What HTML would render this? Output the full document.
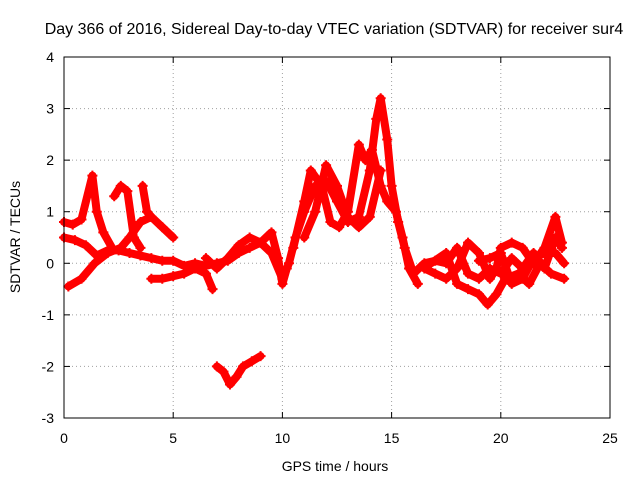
<!DOCTYPE html>
<html><head><meta charset="utf-8"><style>
body{margin:0;background:#fff}
svg{display:block;font-family:"Liberation Sans",sans-serif}
</style></head><body>
<svg id="chart" width="640" height="480">
<rect width="640" height="480" fill="#fff"/>
<text x="334" y="34" text-anchor="middle" font-size="16">Day 366 of 2016, Sidereal Day-to-day VTEC variation (SDTVAR) for receiver sur4</text>
<text x="335" y="471" text-anchor="middle" font-size="14">GPS time / hours</text>
<text transform="translate(20,237) rotate(-90)" text-anchor="middle" font-size="14">SDTVAR / TECUs</text>
<g id="grid"></g><g id="marks"></g><g id="axes"></g>
</svg>
<script>
const xTicks=[0,5,10,15,20,25];
const yTicks=[-3,-2,-1,0,1,2,3,4];
const track1=[[0,0.5],[0.5,0.45],[1,0.35],[1.5,0.15],[2,0.25],[2.5,0.25],[3,0.2],[3.5,0.15],[4,0.1],[4.5,0.05],[5,0.05],[5.5,-0.05],[6,0],[6.5,-0.05],[7,0],[7.5,0.05],[8,0.2],[8.5,0.3],[9,0.4],[9.5,0.2],[10,-0.3],[10.3,0],[10.6,0.5],[11,1.0],[11.5,1.5],[12,1.6],[12.5,1.2],[13,0.8],[13.5,0.9],[14,1.8],[14.3,2.8],[14.5,3.2],[14.8,2.4],[15,1.5],[15.3,0.8],[15.6,0.3],[16,-0.2],[16.5,0],[17,0.05],[17.5,0],[18,0.3],[18.5,-0.2],[19,-0.3],[19.5,-0.1],[20,-0.2],[20.5,0.1],[21,-0.1],[21.5,0.2],[22,-0.1],[22.5,0.5],[22.8,0.3]];
const track2=[[0.2,-0.45],[0.8,-0.3],[1.4,0],[2,0.2],[2.6,0.3],[3,0.5],[3.5,0.8],[4,0.9],[4.5,0.7],[5,0.5]];
const track3=[[0,0.8],[0.4,0.75],[0.8,0.85],[1.3,1.7],[1.5,1.0],[1.8,0.6],[2.2,0.3]];
const track4=[[2.3,1.3],[2.6,1.5],[2.9,1.4],[3.2,0.5],[3.5,0.3]];
const track5=[[3.6,1.5],[3.8,1.0],[4.0,0.9]];
const track6=[[4,-0.3],[4.5,-0.3],[5,-0.25],[5.5,-0.2],[6,-0.1],[6.5,-0.2],[6.8,-0.5]];
const track7=[[6.5,0.1],[7,-0.1],[7.5,0.1],[8,0.35],[8.5,0.5],[9,0.4],[9.5,0.6],[9.8,0.1],[10,-0.4],[10.2,-0.1]];
const track8=[[7,-2.0],[7.3,-2.1],[7.6,-2.35],[7.9,-2.2],[8.2,-2.0],[8.6,-1.9],[9,-1.8]];
const track9=[[10.5,0.3],[11,1.2],[11.3,1.8],[11.8,1.5],[12.2,0.8],[12.6,0.7],[13,1.0],[13.5,2.3],[13.8,2.0],[14.1,2.2],[14.5,1.5],[14.8,1.2],[15.2,1.0],[15.5,0.5],[15.8,-0.1],[16.2,-0.4]];
const track10=[[11,0.5],[11.5,1.0],[12,1.9],[12.5,1.5],[13,0.9],[13.5,0.7],[14,0.9],[14.5,1.8]];
const track11=[[16.5,-0.1],[17,-0.2],[17.5,-0.3],[18,-0.1],[18.5,0.4],[19,0.2],[19.5,-0.3],[19.8,-0.1],[20,0.3],[20.5,0.4],[21,0.3],[21.5,0.0],[22,0.3],[22.5,0.9],[22.8,0.4]];
const track12=[[16.8,0],[17.5,0.2],[18,-0.4],[18.5,-0.5],[19,-0.6],[19.4,-0.8],[19.8,-0.6],[20.2,-0.3],[20.8,-0.2],[21.3,-0.4],[21.8,0.0],[22.3,-0.2],[22.9,-0.3]];
const track13=[[19,0.05],[19.5,0.1],[20,0.2],[20.5,-0.4],[21,-0.3],[21.5,0.1],[22,0.2],[22.5,0.2],[22.9,0.0]];
const tracks=[track1,track2,track3,track4,track5,track6,track7,track8,track9,track10,track11,track12,track13];

const L=64,R=610,T=57,B=418,xMin=0,xMax=25,yMin=-3,yMax=4;
const sx=v=>L+(v-xMin)/(xMax-xMin)*(R-L);
const sy=v=>B-(v-yMin)/(yMax-yMin)*(B-T);
const NS="http://www.w3.org/2000/svg";
function mk(tag,attrs,parent){const e=document.createElementNS(NS,tag);for(const k in attrs)e.setAttribute(k,attrs[k]);parent.appendChild(e);return e;}
const grid=document.getElementById('grid'),axes=document.getElementById('axes'),marks=document.getElementById('marks');
xTicks.forEach(t=>{
  if(t>xMin&&t<xMax){const g=mk('line',{x1:sx(t),x2:sx(t),y1:T,y2:B,stroke:'#a0a0a0','stroke-dasharray':'1,3'},grid);
  
  }
  mk('line',{x1:sx(t),x2:sx(t),y1:B,y2:B-6,stroke:'#000'},axes);
  mk('line',{x1:sx(t),x2:sx(t),y1:T,y2:T+6,stroke:'#000'},axes);
  const tx=mk('text',{x:sx(t),y:B+25,'text-anchor':'middle','font-size':14},axes);tx.textContent=t;
  
  
});
yTicks.forEach(t=>{
  if(t>yMin&&t<yMax){const g=mk('line',{x1:L,x2:R,y1:sy(t),y2:sy(t),stroke:'#a0a0a0','stroke-dasharray':'1,3'},grid);
  
  }
  mk('line',{x1:L,x2:L+6,y1:sy(t),y2:sy(t),stroke:'#000'},axes);
  mk('line',{x1:R,x2:R-6,y1:sy(t),y2:sy(t),stroke:'#000'},axes);
  const tx=mk('text',{x:L-10,y:sy(t)+5,'text-anchor':'end','font-size':14},axes);tx.textContent=t;
  
  
});
const frame=mk('rect',{x:L,y:T,width:R-L,height:B-T,fill:'none',stroke:'#000'},axes);


tracks.forEach(tr=>{
  const pl=mk('polyline',{points:tr.map(p=>sx(p[0])+','+sy(p[1])).join(' '),fill:'none',stroke:'#f00','stroke-width':8,'stroke-linejoin':'round','stroke-linecap':'round'},marks);
  
  
  tr.forEach(p=>{
    const x=sx(p[0]),y=sy(p[1]);
    const m=mk('path',{d:`M${x-5},${y}H${x+5}M${x},${y-5}V${y+5}`,stroke:'#f00','stroke-width':2},marks);
    
    
  });
});
</script>
</body></html>
